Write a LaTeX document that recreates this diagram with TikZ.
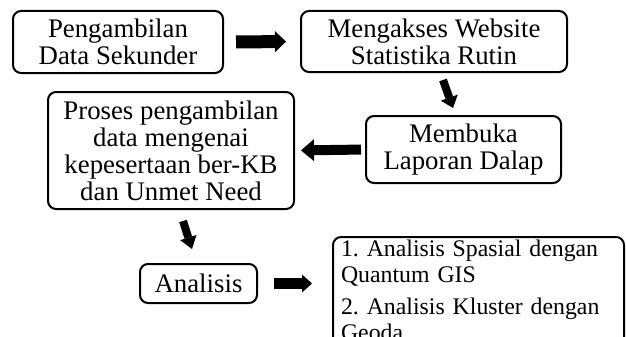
\documentclass[tikz,border=0pt]{standalone}
\usepackage{fontspec}
\setmainfont{Liberation Serif}
\usetikzlibrary{arrows.meta,calc}
\frenchspacing

\tikzset{
	stepbox/.style={draw, rounded corners=8pt, line width=2pt, align=center, inner sep=0pt, font=\fontsize{26.8}{27}\selectfont},
	fatarrow/.style n args={3}{line width=#1pt, -{Triangle[length=#2pt, width=#3pt, line width=0pt]}},
}

\begin{document}
\begin{tikzpicture}[x=1pt, y=-1pt]
			\useasboundingbox (0,0) rectangle (626,337);
			\clip (0,0) rectangle (626,337);
			\node	(sekunder) at (118,42) [stepbox, minimum width=210pt, minimum height=62pt] {Pengambilan\\Data Sekunder};
			\node	(website) at (434,41.5) [stepbox, minimum width=266pt, minimum height=61pt] {Mengakses Website\\Statistika Rutin};
			\node	(laporan) at (463.5,149.5) [stepbox, minimum width=195pt, minimum height=67pt] {Membuka\\Laporan Dalap};
			\node	(proses) at (171,150.5) [stepbox, minimum width=246pt, minimum height=117pt] {Proses pengambilan\\data mengenai\\kepesertaan ber-KB\\dan Unmet Need};
			\node	(analisis) at (198.5,283.5) [stepbox, minimum width=117pt, minimum height=39pt] {Analisis};
			\node	(hasil) at (332,236) [stepbox, anchor=north west, align=left, text width=275pt, inner xsep=8pt, inner ysep=3pt, font=\fontsize{23.8}{26}\selectfont] {1. Analisis Spasial dengan\\Quantum GIS\\[6pt]2. Analisis Kluster dengan\\Geoda\\[20pt]\mbox{}};
			
			\draw 
			(sekunder.east) edge[fatarrow={13}{11}{21}, shorten <=12pt, shorten >=14pt] (website.west)
			($(website.south)+(9,7)$) edge[fatarrow={8}{11}{18}] ($(laporan.north)+(-10.5,-7)$)
			(laporan.west) edge[fatarrow={10}{13}{22}, shorten <=4pt, shorten >=6pt] (proses.east)
			($(proses.south)+(12,11)$) edge[fatarrow={8}{12}{17}] ($(analisis.north)+(-6.5,-14)$)
			(analisis.east) edge[fatarrow={11}{10}{18}, shorten <=15.5pt, shorten >=20pt] (analisis.east -| hasil.west)
			;
		\end{tikzpicture}
\end{document}
